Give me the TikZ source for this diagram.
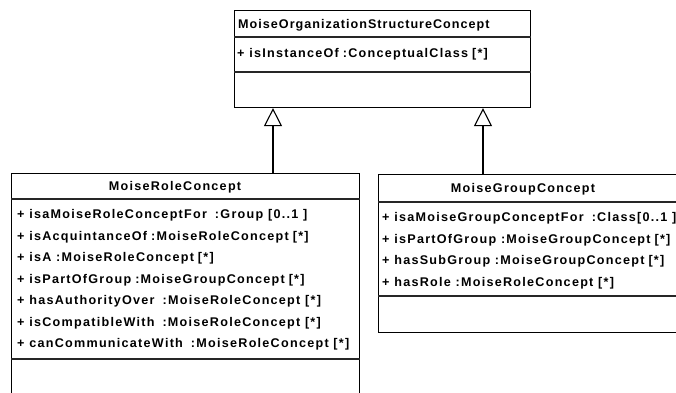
\documentclass[tikz,border=0pt]{standalone}
\usepackage{fontspec}
\setmainfont{Liberation Sans}[LetterSpace=10]
\usetikzlibrary{arrows.meta}
\tikzset{
  classbox/.style={draw=black, line width=1.1pt, fill=white, inner sep=0pt, anchor=north west},
  sep/.style={draw=black!85, line width=1.1pt},
  umltext/.style={inner sep=0pt, font=\fontsize{12.6}{14}\selectfont\bfseries},
  titletext/.style={umltext, anchor=base},
  attrtext/.style={umltext, anchor=base west},
  inherit/.style={draw=black, line width=1.1pt, -{Triangle[open, length=18pt, width=18pt, line width=1.1pt]}}
}
\newcommand{\gap}{\hspace{4pt}}
\begin{document}
\begin{tikzpicture}[x=1pt, y=-1pt]
\useasboundingbox (0,0) rectangle (676,392);
\clip (0,0) rectangle (676,392);
\fill[white] (0,0) rectangle (676,392);
% boxes
\node[classbox, minimum width=296pt, minimum height=97pt] (top) at (234,10) {};
\node[classbox, minimum width=348pt, minimum height=240pt] (role) at (11,173) {};
\node[classbox, minimum width=320pt, minimum height=158pt] (group) at (378,174) {};
% separators
\draw[sep] (top.west |- 0,37) -- (top.east |- 0,37);
\draw[sep] (top.west |- 0,72) -- (top.east |- 0,72);
\draw[sep] (role.west |- 0,199) -- (role.east |- 0,199);
\draw[sep] (role.west |- 0,359) -- (role.east |- 0,359);
\draw[sep] (group.west |- 0,202) -- (group.east |- 0,202);
\draw[sep] (group.west |- 0,296) -- (group.east |- 0,296);
% titles
\node[attrtext] (toptitle) at (238,28) {\addfontfeatures{LetterSpace=8}MoiseOrganizationStructureConcept};
\node[titletext] (roletitle) at (175,190.5) {MoiseRoleConcept};
\node[titletext] (grouptitle) at (523,192.5) {MoiseGroupConcept};
% attributes
\node[attrtext] (topa1) at (237,57.5) {+ isInstanceOf\gap:ConceptualClass\gap[*]};
\node[attrtext] (ra1) at (17,218.5) {+ isaMoiseRoleConceptFor\gap\gap:Group [0..1 ]};
\node[attrtext] (ra2) at (17,240) {+ isAcquintanceOf\gap:MoiseRoleConcept\gap[*]};
\node[attrtext] (ra3) at (17,261.5) {+ isA :MoiseRoleConcept\gap[*]};
\node[attrtext] (ra4) at (17,283) {+ isPartOfGroup\gap:MoiseGroupConcept\gap[*]};
\node[attrtext] (ra5) at (17,304.5) {+ hasAuthorityOver\gap\gap:MoiseRoleConcept [*]};
\node[attrtext] (ra6) at (17,326) {+ isCompatibleWith\gap\gap:MoiseRoleConcept [*]};
\node[attrtext] (ra7) at (17,347.5) {+ canCommunicateWith\gap\gap:MoiseRoleConcept [*]};
\node[attrtext] (ga1) at (382,221.5) {+ isaMoiseGroupConceptFor\gap\gap:Class[0..1 ]};
\node[attrtext] (ga2) at (382,243) {+ isPartOfGroup :MoiseGroupConcept\gap[*]};
\node[attrtext] (ga3) at (382,264.5) {+ hasSubGroup :MoiseGroupConcept\gap[*]};
\node[attrtext] (ga4) at (382,286) {+ hasRole :MoiseRoleConcept [*]};
% generalisations
\coordinate (xl) at (273,0);
\coordinate (xr) at (483,0);
\draw[inherit] (role.north -| xl) -- (top.south -| xl);
\draw[inherit] (group.north -| xr) -- (top.south -| xr);
\end{tikzpicture}
\end{document}
